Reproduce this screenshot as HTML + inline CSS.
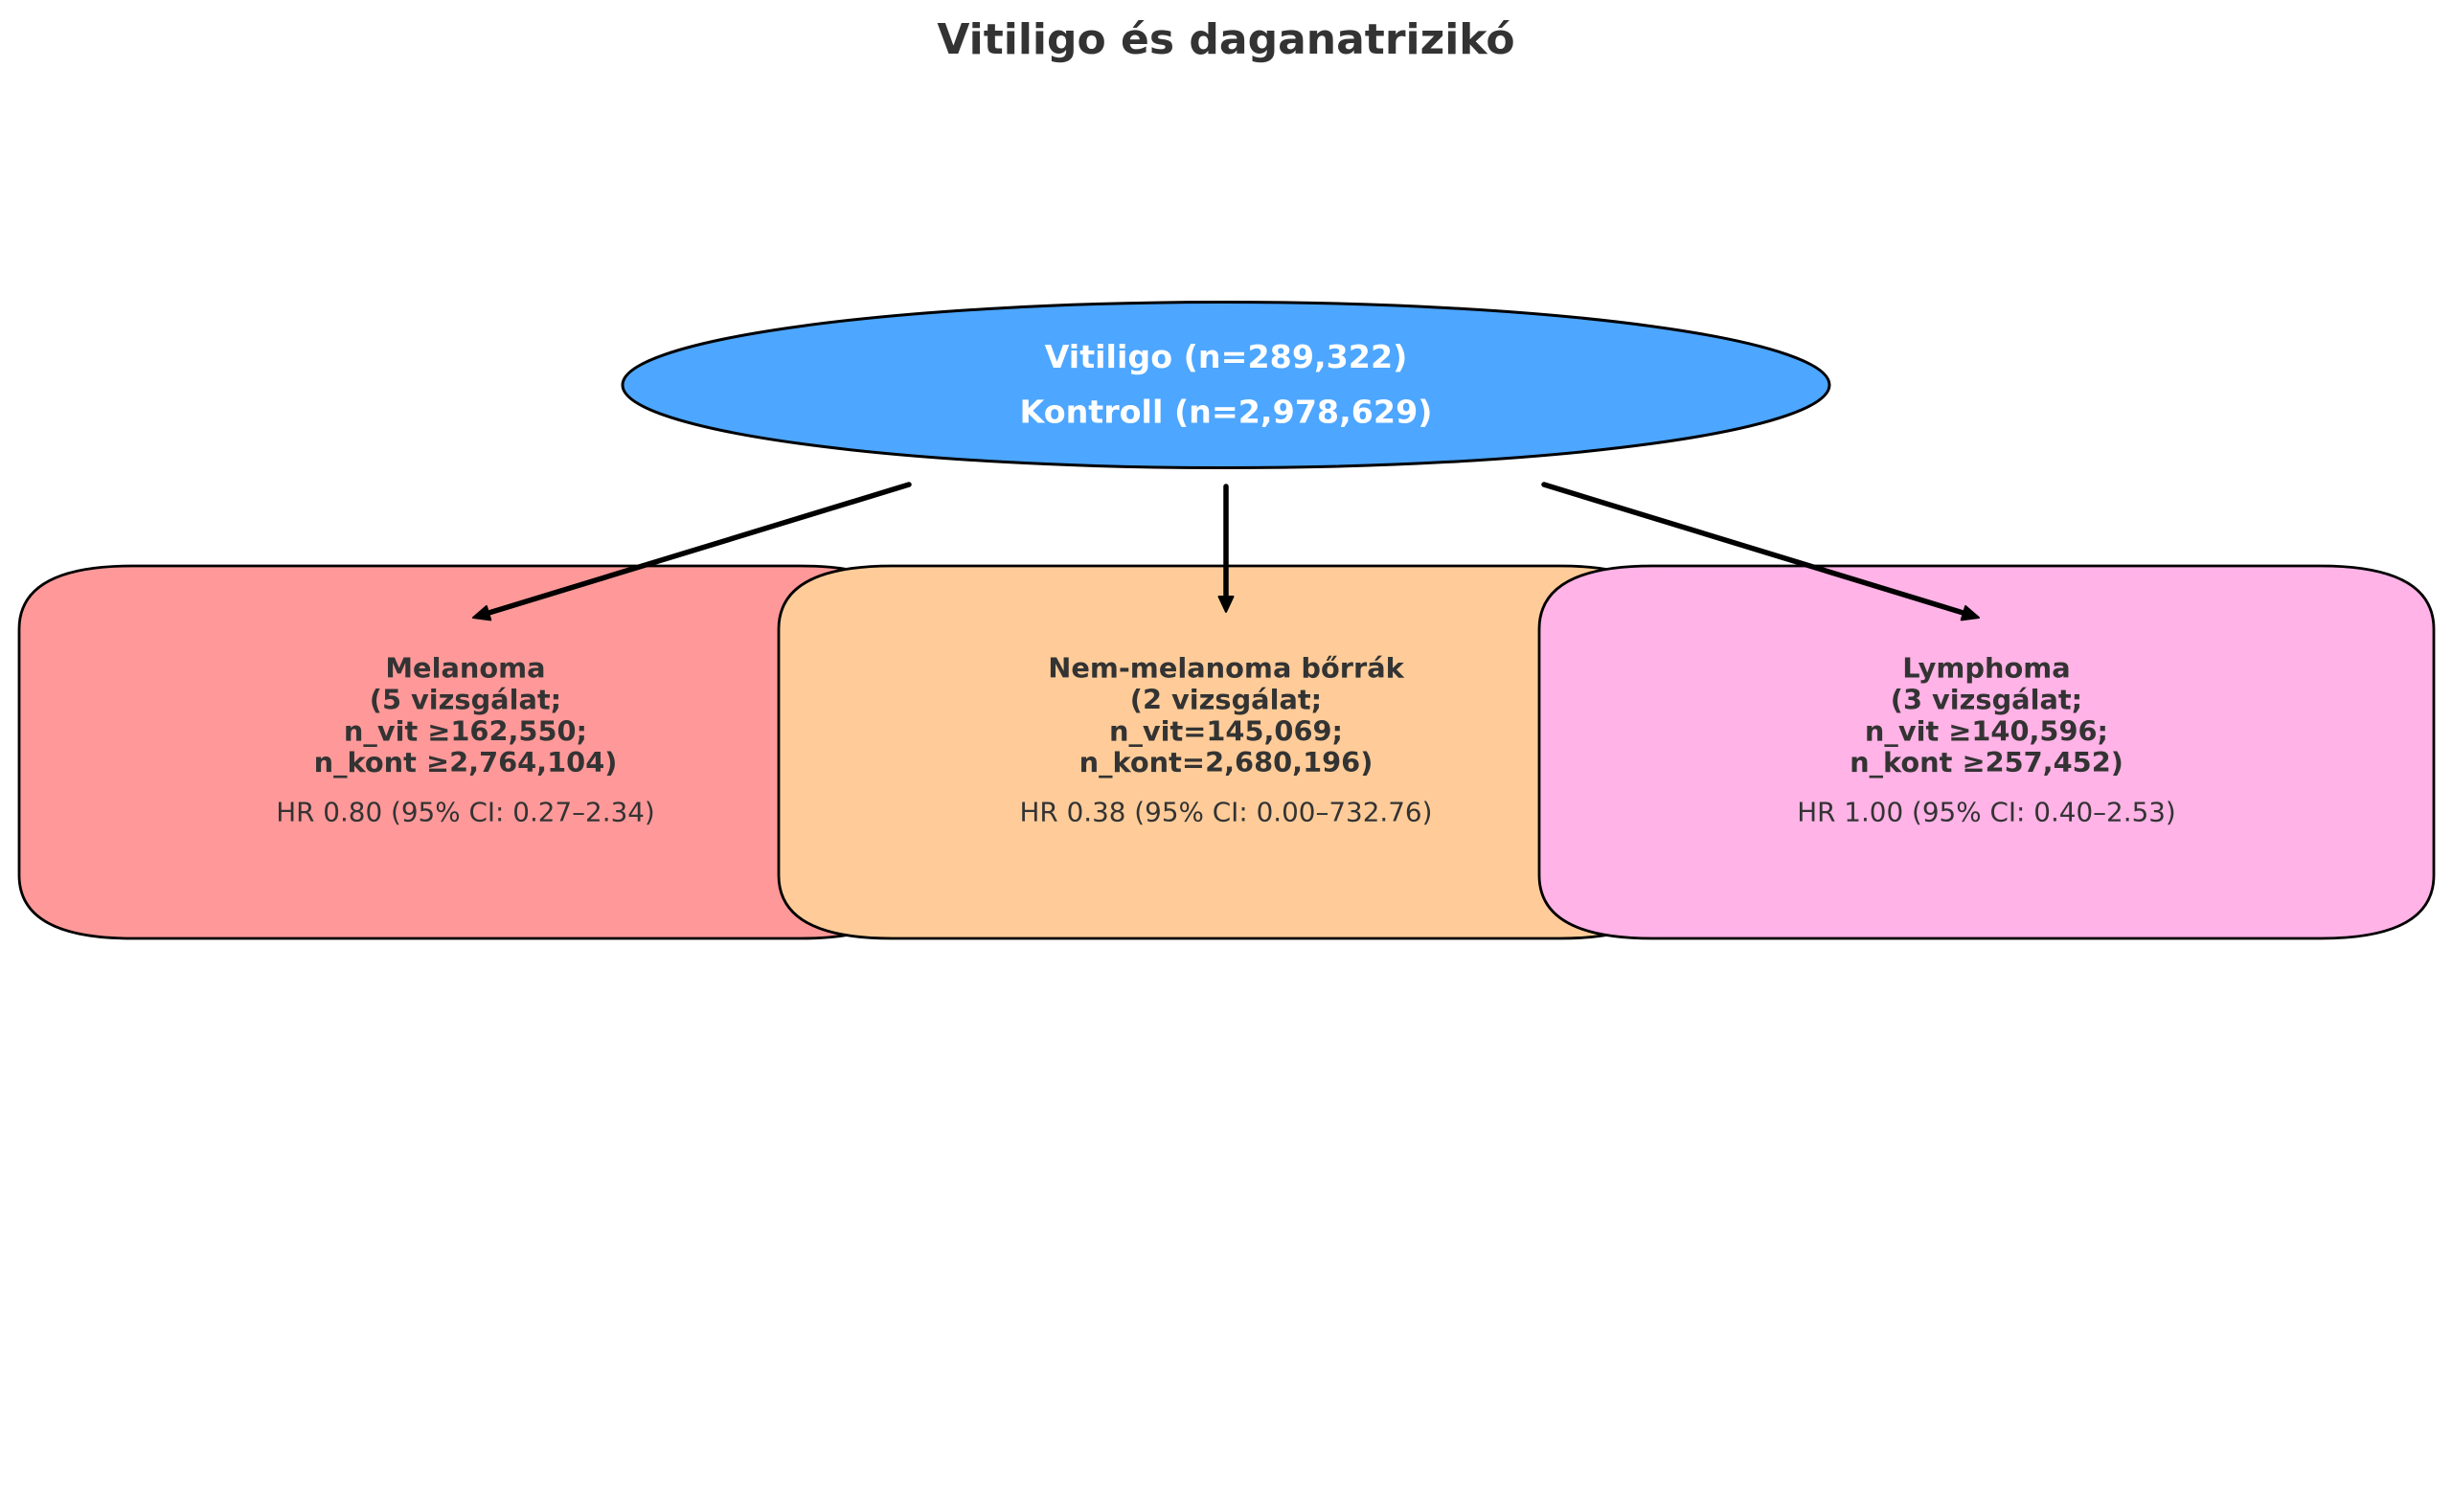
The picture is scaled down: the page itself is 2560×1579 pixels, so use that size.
<!DOCTYPE html>
<html>
<head>
<meta charset="utf-8">
<style>
  html, body { margin:0; padding:0; background:#ffffff; }
  body { width:2560px; height:1579px; overflow:hidden; }
  svg { display:block; }
  text { font-family: "DejaVu Sans", "Liberation Sans", sans-serif; }
</style>
</head>
<body>
<svg width="2560" height="1579" viewBox="0 0 2560 1579" xmlns="http://www.w3.org/2000/svg">
  <rect x="0" y="0" width="2560" height="1579" fill="#ffffff"/>

  <!-- Title -->
  <text x="1280" y="56" text-anchor="middle" font-size="44" font-weight="bold" fill="#333333">Vitiligo és daganatrizikó</text>

  <!-- Root ellipse -->
  <ellipse cx="1280" cy="402" rx="630" ry="86.5" fill="#4DA6FF" stroke="#000000" stroke-width="3"/>
  <text x="1280" y="384" text-anchor="middle" font-size="33.3" font-weight="bold" fill="#ffffff">Vitiligo (n=289,322)</text>
  <text x="1280" y="441.5" text-anchor="middle" font-size="33.3" font-weight="bold" fill="#ffffff">Kontroll (n=2,978,629)</text>

  <!-- Boxes -->
  <path d="M138,591 L836,591 Q954,591 954,657 L954,914 Q954,980 836,980 L138,980 Q20,980 20,914 L20,657 Q20,591 138,591 Z" fill="#FF9999" stroke="#000000" stroke-width="2.8"/>
  <path d="M931,591 L1629,591 Q1747,591 1747,657 L1747,914 Q1747,980 1629,980 L931,980 Q813,980 813,914 L813,657 Q813,591 931,591 Z" fill="#FFCC99" stroke="#000000" stroke-width="2.8"/>
  <path d="M1725,591 L2423,591 Q2541,591 2541,657 L2541,914 Q2541,980 2423,980 L1725,980 Q1607,980 1607,914 L1607,657 Q1607,591 1725,591 Z" fill="#FFB3E6" stroke="#000000" stroke-width="2.8"/>

  <!-- Box texts: Melanoma -->
  <g font-size="28.8" font-weight="bold" fill="#333333" text-anchor="middle">
    <text x="486" y="707.5">Melanoma</text>
    <text x="486" y="740.5">(5 vizsgálat;</text>
    <text x="486" y="773.5">n_vit ≥162,550;</text>
    <text x="486" y="806">n_kont ≥2,764,104)</text>
  </g>
  <text x="486" y="857.5" text-anchor="middle" font-size="27.8" fill="#333333">HR 0.80 (95% CI: 0.27–2.34)</text>

  <!-- Box texts: Nem-melanoma -->
  <g font-size="28.8" font-weight="bold" fill="#333333" text-anchor="middle">
    <text x="1280" y="707.5">Nem-melanoma bőrrák</text>
    <text x="1280" y="740.5">(2 vizsgálat;</text>
    <text x="1280" y="773.5">n_vit=145,069;</text>
    <text x="1280" y="806">n_kont=2,680,196)</text>
  </g>
  <text x="1280" y="857.5" text-anchor="middle" font-size="27.8" fill="#333333">HR 0.38 (95% CI: 0.00–732.76)</text>

  <!-- Box texts: Lymphoma -->
  <g font-size="28.8" font-weight="bold" fill="#333333" text-anchor="middle">
    <text x="2074" y="707.5">Lymphoma</text>
    <text x="2074" y="740.5">(3 vizsgálat;</text>
    <text x="2074" y="773.5">n_vit ≥140,596;</text>
    <text x="2074" y="806">n_kont ≥257,452)</text>
  </g>
  <text x="2074" y="857.5" text-anchor="middle" font-size="27.8" fill="#333333">HR 1.00 (95% CI: 0.40–2.53)</text>

  <!-- Arrows -->
  <g stroke="#000000" stroke-width="5.5" stroke-linecap="round" fill="none">
    <line x1="949" y1="506" x2="512" y2="639.5"/>
    <line x1="1280" y1="508" x2="1280" y2="624"/>
    <line x1="1612" y1="506" x2="2048" y2="639.5"/>
  </g>
  <g fill="#000000" stroke="#000000" stroke-width="2" stroke-linejoin="round">
    <polygon points="494,645 512.3,647.4 507.9,633.0"/>
    <polygon points="1280,639 1272.5,623 1287.5,623"/>
    <polygon points="2066,645 2047.7,647.4 2052.1,633.0"/>
  </g>
</svg>
</body>
</html>
